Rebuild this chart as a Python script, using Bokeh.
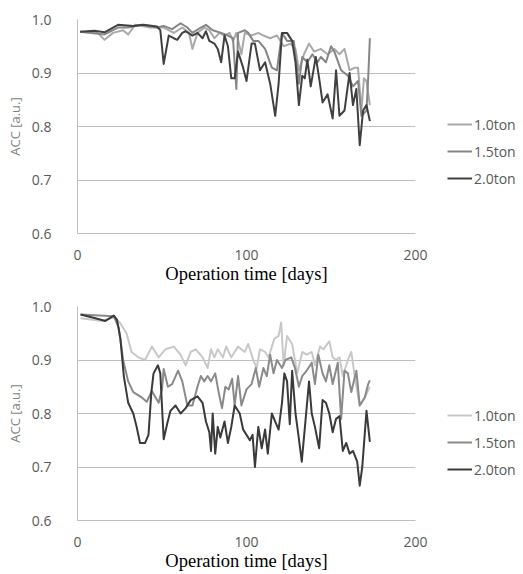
from bokeh.plotting import figure
from bokeh.layouts import column
from bokeh.models import Range1d, FixedTicker, NumeralTickFormatter, Legend, LegendItem
from bokeh.embed import file_html
from bokeh.resources import INLINE

series_names = ["1.0ton", "1.5ton", "2.0ton"]
y_ticks = [0.6, 0.7, 0.8, 0.9, 1.0]
x_ticks = [0, 100, 200]

# ---------- top panel ----------
top_10_x = [1.6, 12, 16, 21, 27, 30, 34, 43, 51, 57, 62, 66, 68, 71, 75, 78, 81, 84, 87, 90, 92, 94, 97, 99,
            103, 107, 110, 114, 118, 122, 126, 129, 131, 134, 137, 140, 144, 148, 152, 155, 158, 161, 164,
            166, 168, 169.5, 171, 173]
top_10_y = [0.977, 0.975, 0.962, 0.975, 0.98, 0.972, 0.99, 0.985, 0.985, 0.975, 0.985, 0.975, 0.945, 0.975,
            0.985, 0.98, 0.965, 0.975, 0.97, 0.975, 0.96, 0.975, 0.935, 0.975, 0.97, 0.975, 0.97, 0.965, 0.97,
            0.95, 0.955, 0.945, 0.905, 0.935, 0.955, 0.94, 0.945, 0.935, 0.945, 0.935, 0.945, 0.905, 0.91,
            0.91, 0.83, 0.89, 0.885, 0.84]

top_15_x = [1.6, 16, 24, 30, 38, 47, 51, 56, 61, 65, 68, 73, 76, 80, 85, 89, 92, 94, 95, 99, 101, 104, 107,
            111, 115, 118, 121, 124, 128, 131, 133, 136, 139, 142, 144, 147, 150, 152, 156, 160, 163, 166,
            168, 171, 172, 173]
top_15_y = [0.977, 0.972, 0.985, 0.985, 0.99, 0.985, 0.988, 0.982, 0.993, 0.985, 0.975, 0.985, 0.99, 0.98,
            0.975, 0.97, 0.965, 0.87, 0.975, 0.98, 0.975, 0.96, 0.96, 0.945, 0.91, 0.905, 0.975, 0.96, 0.96,
            0.88, 0.93, 0.92, 0.935, 0.92, 0.93, 0.92, 0.95, 0.94, 0.905, 0.895, 0.875, 0.885, 0.82, 0.83,
            0.89, 0.965]

top_20_x = [1.6, 10, 16, 24, 33, 39, 47, 49, 51, 54, 57, 59, 62, 64, 68, 71, 74, 76, 78, 81, 83, 85, 87, 89,
            91, 93, 95, 98, 100, 103, 105, 108, 111, 114, 117, 119, 121, 124, 127, 129, 131, 133, 134.5, 136,
            138, 141, 143, 145, 148, 151, 153, 155, 158, 161, 163, 165, 167, 169, 171, 173]
top_20_y = [0.977, 0.979, 0.976, 0.99, 0.988, 0.99, 0.987, 0.98, 0.917, 0.97, 0.965, 0.962, 0.975, 0.978,
            0.97, 0.975, 0.965, 0.978, 0.96, 0.955, 0.945, 0.92, 0.97, 0.95, 0.89, 0.89, 0.94, 0.91, 0.885,
            0.955, 0.955, 0.905, 0.92, 0.88, 0.82, 0.88, 0.975, 0.975, 0.96, 0.92, 0.84, 0.895, 0.89, 0.925,
            0.875, 0.93, 0.89, 0.845, 0.86, 0.815, 0.905, 0.82, 0.83, 0.9, 0.84, 0.87, 0.765, 0.83, 0.84, 0.81]

# ---------- bottom panel ----------
bot_10_x = [1.8, 15, 21.5, 25, 29, 32, 36, 40, 44, 48, 52, 57, 61, 64, 67, 70, 74, 77, 79, 81, 83, 86, 88,
            91, 95, 99, 101, 104, 106, 108, 111, 113, 116.5, 119, 120.5, 122, 124, 127, 130, 133, 135.6,
            138.6, 140.5, 143.5, 145.5, 149, 151, 153, 155, 157, 160, 162, 164.5, 167, 170, 173]
bot_10_y = [0.978, 0.973, 0.98, 0.97, 0.95, 0.915, 0.905, 0.9, 0.925, 0.905, 0.92, 0.925, 0.91, 0.89, 0.915,
            0.92, 0.905, 0.885, 0.92, 0.905, 0.92, 0.905, 0.925, 0.905, 0.925, 0.915, 0.93, 0.9, 0.885, 0.92,
            0.915, 0.905, 0.94, 0.945, 0.97, 0.89, 0.945, 0.93, 0.875, 0.915, 0.91, 0.915, 0.89, 0.925, 0.92,
            0.935, 0.905, 0.9, 0.905, 0.87, 0.9, 0.915, 0.86, 0.815, 0.83, 0.85]

bot_15_x = [1.8, 21.5, 24.4, 27, 30, 33, 38, 41, 44, 48, 50, 51, 53.5, 56, 59.5, 62, 65, 68, 71, 73, 75, 77,
            79, 81.5, 83.5, 85.5, 87.5, 89.5, 91.5, 93, 95, 97, 100, 103, 105.5, 107.5, 110, 112, 114, 116,
            118, 121, 123, 126.5, 128.7, 131, 133, 135.6, 138.6, 140.5, 142.5, 145, 147, 149, 151, 154, 156,
            158, 160, 162, 165, 167, 170, 172, 173]
bot_15_y = [0.985, 0.982, 0.96, 0.9, 0.86, 0.84, 0.83, 0.822, 0.842, 0.82, 0.845, 0.883, 0.85, 0.855, 0.88,
            0.86, 0.815, 0.815, 0.85, 0.87, 0.86, 0.87, 0.86, 0.875, 0.84, 0.81, 0.85, 0.845, 0.865, 0.815,
            0.87, 0.815, 0.845, 0.855, 0.885, 0.85, 0.885, 0.87, 0.91, 0.875, 0.9, 0.885, 0.9, 0.905, 0.885,
            0.85, 0.87, 0.88, 0.895, 0.855, 0.91, 0.875, 0.86, 0.89, 0.855, 0.895, 0.79, 0.88, 0.875, 0.84,
            0.88, 0.815, 0.83, 0.855, 0.862]

bot_20_x = [1.8, 10.6, 16.5, 21.5, 23.4, 25.4, 27.4, 30, 33, 35, 37, 40, 42, 43.7, 45, 47.6, 49, 51, 53, 55,
            58, 61, 64, 67, 71, 74, 76, 78, 79, 80, 81.5, 83, 84.5, 87, 89, 91, 93, 96, 98, 100, 102, 103.6,
            105, 107, 109, 111, 112.6, 115, 117, 119, 121, 122.4, 124, 125.6, 127, 129, 130.7, 132.7, 135,
            137, 138.6, 140.5, 143, 145, 147, 149, 151, 153, 155, 157, 159, 161, 163, 165.5, 167, 168.5, 171,
            173]
bot_20_y = [0.985, 0.978, 0.973, 0.983, 0.975, 0.94, 0.87, 0.82, 0.8, 0.775, 0.745, 0.745, 0.76, 0.84, 0.875,
            0.89, 0.875, 0.752, 0.78, 0.805, 0.815, 0.8, 0.81, 0.825, 0.832, 0.82, 0.785, 0.765, 0.73, 0.8,
            0.725, 0.775, 0.755, 0.785, 0.745, 0.775, 0.815, 0.8, 0.77, 0.76, 0.75, 0.76, 0.7, 0.775, 0.735,
            0.77, 0.725, 0.8, 0.785, 0.77, 0.82, 0.875, 0.86, 0.78, 0.88, 0.8, 0.76, 0.71, 0.79, 0.86, 0.8,
            0.775, 0.735, 0.825, 0.82, 0.8, 0.765, 0.79, 0.795, 0.73, 0.745, 0.725, 0.73, 0.71, 0.665, 0.7,
            0.805, 0.747]

FONT = "Open Sans"
TICK_COLOR = "#595959"
GRID_COLOR = "#bfbfbf"


def make_panel(xs, ys, colors, legend_y):
    p = figure(frame_width=338, frame_height=214, output_backend="svg", toolbar_location=None,
               x_range=Range1d(0, 200), y_range=Range1d(0.6, 1.0),
               min_border_left=77, min_border_right=108, min_border_top=19, min_border_bottom=54)
    p.outline_line_color = None
    p.background_fill_color = "white"
    p.border_fill_color = "white"
    p.xgrid.grid_line_color = None
    p.ygrid.grid_line_color = GRID_COLOR
    p.ygrid.grid_line_width = 1
    p.yaxis.ticker = FixedTicker(ticks=y_ticks)
    p.xaxis.ticker = FixedTicker(ticks=x_ticks)
    p.yaxis.formatter = NumeralTickFormatter(format="0.0")
    for ax in (p.xaxis[0], p.yaxis[0]):
        ax.major_tick_line_color = None
        ax.minor_tick_line_color = None
        ax.axis_line_color = GRID_COLOR
        ax.major_label_text_font = FONT
        ax.major_label_text_font_size = "14px"
        ax.major_label_text_color = TICK_COLOR
    p.yaxis.major_label_standoff = 20
    p.xaxis.major_label_standoff = 10
    p.yaxis.axis_label = "ACC [a.u.]"
    p.yaxis.axis_label_text_font = FONT
    p.yaxis.axis_label_text_font_size = "13px"
    p.yaxis.axis_label_text_font_style = "normal"
    p.yaxis.axis_label_text_color = "#7f7f7f"
    p.yaxis.axis_label_standoff = 5
    p.xaxis.axis_label = "Operation time [days]"
    p.xaxis.axis_label_text_font = "Liberation Serif"
    p.xaxis.axis_label_text_font_size = "18.5px"
    p.xaxis.axis_label_text_font_style = "normal"
    p.xaxis.axis_label_text_color = "#000000"
    p.xaxis.axis_label_standoff = 1

    items = []
    for x, y, c, name in zip(xs, ys, colors, series_names):
        r = p.line(x, y, line_color=c, line_width=2, line_join="round")
        items.append(LegendItem(label=name, renderers=[r]))
    leg = Legend(items=items, location=(32, legend_y), orientation="vertical",
                 glyph_width=25, glyph_height=20, spacing=7, padding=0, margin=0,
                 label_standoff=2, label_text_font=FONT, label_text_font_size="14px",
                 label_text_color=TICK_COLOR, border_line_color=None, background_fill_alpha=0)
    p.add_layout(leg, "right")
    return p


p1 = make_panel([top_10_x, top_15_x, top_20_x], [top_10_y, top_15_y, top_20_y],
                ["#a9a9a9", "#868686", "#404040"], 45)
p2 = make_panel([bot_10_x, bot_15_x, bot_20_x], [bot_10_y, bot_15_y, bot_20_y],
                ["#c8c8c8", "#8a8a8a", "#3a3a3a"], 41)

layout = column(p1, p2, spacing=0)
open("out.html", "w").write(file_html(layout, INLINE))
